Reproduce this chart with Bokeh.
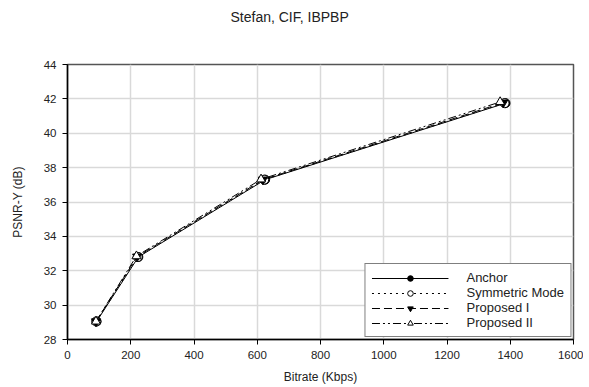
from bokeh.plotting import figure
from bokeh.embed import file_html
from bokeh.resources import INLINE
from bokeh.models import FixedTicker, Legend, LegendItem, Title

title_text = "Stefan, CIF, IBPBP"
x_label = "Bitrate (Kbps)"
y_label = "PSNR-Y (dB)"

anchor_x = [92, 224, 625, 1385]
anchor_y = [29.05, 32.8, 37.3, 41.75]
sym_x = [91, 222, 622, 1382]
sym_y = [29.05, 32.8, 37.3, 41.75]
p1_x = [90, 220, 618, 1378]
p1_y = [29.05, 32.82, 37.3, 41.78]
p2_x = [90, 218, 612, 1368]
p2_y = [29.05, 32.85, 37.32, 41.82]

x_ticks = [0, 200, 400, 600, 800, 1000, 1200, 1400, 1600]
y_ticks = [28, 30, 32, 34, 36, 38, 40, 42, 44]

FONT = "Liberation Sans"

p = figure(width=583, height=386, x_range=(0, 1600), y_range=(28, 44), title=None,
           output_backend="svg", toolbar_location=None,
           min_border_left=67, min_border_right=10, min_border_top=64, min_border_bottom=46)

spacer = Title(text=" ", text_font=FONT, text_font_size="14px", standoff=22)
p.add_layout(spacer, "above")
main_title = Title(text=title_text, text_font=FONT, text_font_size="14px",
                   text_font_style="normal", text_color="#222222",
                   align="left", offset=163, standoff=0)
p.add_layout(main_title, "above")

p.outline_line_color = "#555555"
p.outline_line_width = 1.5
p.background_fill_color = "white"
p.border_fill_color = "white"

for ax in (p.xaxis[0], p.yaxis[0]):
    ax.axis_line_color = "black"
    ax.axis_line_width = 1.5
    ax.major_tick_line_color = "black"
    ax.major_tick_in = 0
    ax.major_tick_out = 5
    ax.minor_tick_line_color = None
    ax.major_label_text_font = FONT
    ax.major_label_text_font_size = "11.5px"
    ax.major_label_text_color = "#222222"
    ax.axis_label_text_font = FONT
    ax.axis_label_text_font_size = "12px"
    ax.axis_label_text_font_style = "normal"
    ax.axis_label_text_color = "#222222"

p.xaxis.ticker = FixedTicker(ticks=x_ticks)
p.yaxis.ticker = FixedTicker(ticks=y_ticks)
p.xaxis.axis_label = x_label
p.yaxis.axis_label = y_label
p.xaxis.major_label_standoff = 6
p.yaxis.major_label_standoff = 6
p.xaxis.axis_label_standoff = 8
p.yaxis.axis_label_standoff = 16

p.xgrid.ticker = FixedTicker(ticks=x_ticks)
p.ygrid.ticker = FixedTicker(ticks=y_ticks)
p.grid.grid_line_color = "#d9d9d9"
p.grid.grid_line_width = 1.5

series = [
    ("Anchor", anchor_x, anchor_y, "solid", "circle", "black"),
    ("Symmetric Mode", sym_x, sym_y, "dotted", "circle", "white"),
    ("Proposed I", p1_x, p1_y, "8 4", "inverted_triangle", "black"),
    ("Proposed II", p2_x, p2_y, "8 3 2 3 2 3", "triangle", "white"),
]

items = []
for name, xs, ys, dash, marker, fill in series:
    r1 = p.line(xs, ys, line_color="black", line_width=1, line_dash=dash)
    r2 = p.scatter(xs, ys, marker=marker, size=9, line_color="black", fill_color=fill, line_width=1)
    items.append(LegendItem(label=name, renderers=[r1, r2]))

legend = Legend(items=items, location="bottom_right")
legend.border_line_color = "black"
legend.border_line_width = 1.5
legend.label_text_font = FONT
legend.label_text_font_size = "13px"
legend.label_text_color = "#222222"
legend.glyph_width = 77
legend.glyph_height = 14
legend.label_height = 14
legend.spacing = 0
legend.padding = 6
legend.margin = 2
legend.label_standoff = 18
legend.background_fill_alpha = 1
p.add_layout(legend, "center")

open("out.html", "w").write(file_html(p, INLINE))
